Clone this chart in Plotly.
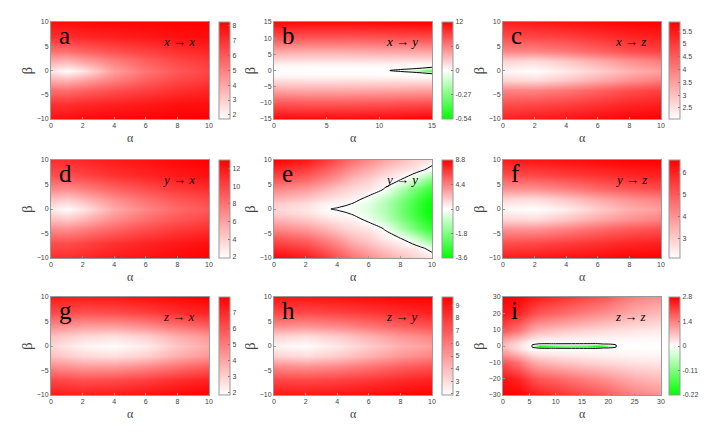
import plotly.graph_objects as go

W, H = 727, 435
OFF = 8  # page body margin that the browser adds around the figure

# ---------------- data ----------------
# a: x -> x
alpha_a = [0, 1, 2, 4, 6, 8, 10]
beta_a = [-10, -7, -4, -2, 0, 2, 4, 7, 10]
z_a = [
    [7.8, 7.9, 8.0, 8.1, 8.1, 8.2, 8.2],
    [7.0, 7.0, 7.2, 7.4, 7.6, 7.8, 7.9],
    [5.4, 5.4, 5.7, 6.2, 6.6, 7.0, 7.3],
    [3.8, 3.6, 4.1, 5.0, 5.8, 6.4, 6.8],
    [2.4, 1.8, 2.4, 4.2, 5.3, 6.0, 6.5],
    [3.8, 3.6, 4.1, 5.0, 5.8, 6.4, 6.8],
    [5.4, 5.4, 5.7, 6.2, 6.6, 7.0, 7.3],
    [7.0, 7.0, 7.2, 7.4, 7.6, 7.8, 7.9],
    [7.8, 7.9, 8.0, 8.1, 8.1, 8.2, 8.2],
]

# b: x -> y
alpha_b = [0, 3, 6, 9, 11, 12, 13.5, 15]
beta_b = [-15, -10, -5, -2, -1, -0.6, -0.3, 0, 0.3, 0.6, 1, 2, 5, 10, 15]
z_b = [
    [11.6, 11.5, 11.5, 11.6, 11.7, 11.8, 11.9, 12.0],
    [8.0, 7.8, 7.8, 7.9, 8.0, 8.1, 8.2, 8.3],
    [3.4, 3.2, 3.2, 3.3, 3.4, 3.4, 3.5, 3.6],
    [0.7, 0.6, 0.6, 0.6, 0.55, 0.5, 0.45, 0.4],
    [0.25, 0.2, 0.2, 0.18, 0.14, 0.12, 0.05, 0.0],
    [0.15, 0.12, 0.1, 0.08, 0.05, 0.04, 0.0, -0.2],
    [0.1, 0.08, 0.06, 0.04, 0.02, 0.0, -0.12, -0.35],
    [0.08, 0.06, 0.04, 0.02, 0.0, -0.1, -0.25, -0.48],
    [0.1, 0.08, 0.06, 0.04, 0.02, 0.0, -0.12, -0.35],
    [0.15, 0.12, 0.1, 0.08, 0.05, 0.04, 0.0, -0.2],
    [0.25, 0.2, 0.2, 0.18, 0.14, 0.12, 0.05, 0.0],
    [0.7, 0.6, 0.6, 0.6, 0.55, 0.5, 0.45, 0.4],
    [3.4, 3.2, 3.2, 3.3, 3.4, 3.4, 3.5, 3.6],
    [8.0, 7.8, 7.8, 7.9, 8.0, 8.1, 8.2, 8.3],
    [11.6, 11.5, 11.5, 11.6, 11.7, 11.8, 11.9, 12.0],
]

# c: x -> z
alpha_c = [0, 2, 4, 6, 8, 10]
beta_c = [-10, -7, -4, -2, 0, 2, 4, 7, 10]
z_c = [
    [5.4, 5.5, 5.6, 5.7, 5.8, 5.85],
    [4.7, 4.8, 4.9, 5.1, 5.3, 5.4],
    [3.9, 3.9, 4.1, 4.4, 4.7, 4.9],
    [2.7, 2.6, 2.9, 3.3, 3.7, 4.0],
    [2.2, 2.1, 2.4, 2.8, 3.2, 3.5],
    [2.7, 2.6, 2.9, 3.3, 3.7, 4.0],
    [3.9, 3.9, 4.1, 4.4, 4.7, 4.9],
    [4.7, 4.8, 4.9, 5.1, 5.3, 5.4],
    [5.4, 5.5, 5.6, 5.7, 5.8, 5.85],
]

# d: y -> x
alpha_d = [0, 1, 2, 4, 6, 8, 10]
beta_d = [-10, -7, -4, -2, 0, 2, 4, 7, 10]
z_d = [
    [11.0, 11.0, 11.3, 11.8, 12.2, 12.6, 12.9],
    [9.6, 9.6, 10.0, 10.8, 11.4, 11.9, 12.3],
    [7.0, 6.8, 7.4, 8.6, 9.6, 10.4, 11.0],
    [4.6, 4.2, 5.0, 6.8, 8.2, 9.2, 9.9],
    [2.8, 2.0, 3.0, 5.6, 7.2, 8.4, 9.2],
    [4.6, 4.2, 5.0, 6.8, 8.2, 9.2, 9.9],
    [7.0, 6.8, 7.4, 8.6, 9.6, 10.4, 11.0],
    [9.6, 9.6, 10.0, 10.8, 11.4, 11.9, 12.3],
    [11.0, 11.0, 11.3, 11.8, 12.2, 12.6, 12.9],
]

# e: y -> y
alpha_e = [0, 2, 3, 3.6, 4, 4.5, 5, 6, 7, 8, 9, 10]
beta_e = [-10, -8, -6, -4, -2, -1, -0.5, 0, 0.5, 1, 2, 4, 6, 8, 10]
z_e = [
    [8.7, 8.0, 7.1, 6.5, 6.0, 5.45, 4.9, 4.0, 3.1, 2.4, 1.5, 1.0],
    [7.3, 6.6, 5.8, 5.2, 4.8, 4.2, 3.6, 2.8, 1.9, 1.2, 0.8, -0.3],
    [5.8, 5.1, 4.3, 3.8, 3.4, 2.85, 2.3, 1.6, 0.6, 0.05, -0.8, -1.95],
    [4.2, 3.5, 2.8, 2.3, 2.0, 1.6, 1.3, 0.9, -0.04, -1.05, -2.0, -2.85],
    [2.6, 1.9, 1.3, 0.95, 0.8, 0.6, 0.5, -0.2, -0.9, -1.7, -2.6, -3.4],
    [1.8, 1.2, 0.6, 0.3, 0.3, 0.23, -0.05, -0.45, -1.05, -1.85, -2.75, -3.55],
    [1.6, 1.0, 0.42, 0.1, 0.15, -0.04, -0.1, -0.49, -1.09, -1.89, -2.79, -3.59],
    [1.5, 0.9, 0.35, 0.0, -0.06, -0.09, -0.12, -0.5, -1.1, -1.9, -2.8, -3.6],
    [1.6, 1.0, 0.42, 0.1, 0.15, -0.04, -0.1, -0.49, -1.09, -1.89, -2.79, -3.59],
    [1.8, 1.2, 0.6, 0.3, 0.3, 0.23, -0.05, -0.45, -1.05, -1.85, -2.75, -3.55],
    [2.6, 1.9, 1.3, 0.95, 0.8, 0.6, 0.5, -0.2, -0.9, -1.7, -2.6, -3.4],
    [4.2, 3.5, 2.8, 2.3, 2.0, 1.6, 1.3, 0.9, -0.04, -1.05, -2.0, -2.85],
    [5.8, 5.1, 4.3, 3.8, 3.4, 2.85, 2.3, 1.6, 0.6, 0.05, -0.8, -1.95],
    [7.3, 6.6, 5.8, 5.2, 4.8, 4.2, 3.6, 2.8, 1.9, 1.2, 0.8, -0.3],
    [8.7, 8.0, 7.1, 6.5, 6.0, 5.45, 4.9, 4.0, 3.1, 2.4, 1.5, 1.0],
]

# f: y -> z
alpha_f = [0, 2, 4, 6, 8, 10]
beta_f = [-10, -7, -4, -2, 0, 2, 4, 7, 10]
z_f = [
    [6.1, 6.2, 6.3, 6.4, 6.5, 6.55],
    [5.2, 5.3, 5.5, 5.7, 5.9, 6.0],
    [4.0, 4.0, 4.3, 4.7, 5.0, 5.2],
    [2.8, 2.7, 3.1, 3.6, 4.0, 4.3],
    [2.2, 2.1, 2.4, 3.0, 3.5, 3.8],
    [2.8, 2.7, 3.1, 3.6, 4.0, 4.3],
    [4.0, 4.0, 4.3, 4.7, 5.0, 5.2],
    [5.2, 5.3, 5.5, 5.7, 5.9, 6.0],
    [6.1, 6.2, 6.3, 6.4, 6.5, 6.55],
]

# g: z -> x
alpha_g = [0, 2, 4, 6, 8, 10]
beta_g = [-10, -7, -4, -2, 0, 2, 4, 7, 10]
z_g = [
    [7.4, 7.3, 7.4, 7.6, 7.8, 8.0],
    [6.3, 6.1, 6.2, 6.5, 6.9, 7.2],
    [4.6, 4.2, 4.2, 4.6, 5.2, 5.7],
    [3.4, 2.8, 2.6, 3.0, 3.8, 4.4],
    [2.8, 2.1, 1.9, 2.3, 3.2, 3.9],
    [3.4, 2.8, 2.6, 3.0, 3.8, 4.4],
    [4.6, 4.2, 4.2, 4.6, 5.2, 5.7],
    [6.3, 6.1, 6.2, 6.5, 6.9, 7.2],
    [7.4, 7.3, 7.4, 7.6, 7.8, 8.0],
]

# h: z -> y
alpha_h = [0, 2, 4, 6, 8, 10]
beta_h = [-10, -7, -4, -2, 0, 2, 4, 7, 10]
z_h = [
    [9.0, 9.0, 9.1, 9.3, 9.5, 9.6],
    [7.6, 7.5, 7.7, 8.0, 8.4, 8.7],
    [5.4, 5.2, 5.5, 6.1, 6.7, 7.2],
    [3.3, 3.0, 3.5, 4.3, 5.1, 5.7],
    [2.3, 2.0, 2.6, 3.5, 4.3, 4.9],
    [3.3, 3.0, 3.5, 4.3, 5.1, 5.7],
    [5.4, 5.2, 5.5, 6.1, 6.7, 7.2],
    [7.6, 7.5, 7.7, 8.0, 8.4, 8.7],
    [9.0, 9.0, 9.1, 9.3, 9.5, 9.6],
]

# i: z -> z
alpha_i = [0, 3, 5.5, 7, 10, 13, 16, 18, 20, 21.5, 25, 30]
beta_i = [-30, -20, -10, -5, -2.5, -1.2, -0.6, 0, 0.6, 1.2, 2.5, 5, 10, 20, 30]
z_i = [
    [2.8, 2.75, 2.55, 2.45, 2.3, 2.15, 2.0, 1.9, 1.8, 1.65, 1.4, 1.2],
    [2.6, 2.4, 2.0, 1.85, 1.7, 1.55, 1.4, 1.3, 1.2, 1.1, 0.9, 0.75],
    [1.9, 1.5, 1.0, 0.85, 0.7, 0.6, 0.5, 0.45, 0.4, 0.37, 0.3, 0.25],
    [1.2, 0.8, 0.4, 0.3, 0.25, 0.2, 0.17, 0.15, 0.13, 0.12, 0.1, 0.08],
    [0.95, 0.45, 0.09, 0.09, 0.08, 0.07, 0.06, 0.06, 0.05, 0.05, 0.04, 0.04],
    [0.8, 0.37, 0.02, -0.001, -0.001, -0.001, -0.001, -0.001, 0.01, 0.01, 0.02, 0.02],
    [0.8, 0.36, 0.01, -0.13, -0.08, -0.07, -0.09, -0.13, -0.04, 0.005, 0.02, 0.02],
    [0.8, 0.35, 0.0, -0.2, -0.13, -0.11, -0.14, -0.2, -0.1, 0.0, 0.02, 0.02],
    [0.8, 0.36, 0.01, -0.13, -0.08, -0.07, -0.09, -0.13, -0.04, 0.005, 0.02, 0.02],
    [0.8, 0.37, 0.02, -0.001, -0.001, -0.001, -0.001, -0.001, 0.01, 0.01, 0.02, 0.02],
    [0.95, 0.45, 0.09, 0.09, 0.08, 0.07, 0.06, 0.06, 0.05, 0.05, 0.04, 0.04],
    [1.2, 0.8, 0.4, 0.3, 0.25, 0.2, 0.17, 0.15, 0.13, 0.12, 0.1, 0.08],
    [1.9, 1.5, 1.0, 0.85, 0.7, 0.6, 0.5, 0.45, 0.4, 0.37, 0.3, 0.25],
    [2.6, 2.4, 2.0, 1.85, 1.7, 1.55, 1.4, 1.3, 1.2, 1.1, 0.9, 0.75],
    [2.8, 2.75, 2.55, 2.45, 2.3, 2.15, 2.0, 1.9, 1.8, 1.65, 1.4, 1.2],
]

# colorbar ranges / ticks
cb_a = dict(zmin=1.73, zmax=8.22, ticks=[2, 3, 4, 5, 6, 7, 8])
cb_c = dict(zmin=2.07, zmax=5.86, ticks=[2.5, 3, 3.5, 4, 4.5, 5, 5.5])
cb_d = dict(zmin=1.89, zmax=12.94, ticks=[2, 4, 6, 8, 10, 12])
cb_f = dict(zmin=2.09, zmax=6.56, ticks=[3, 4, 5, 6])
cb_g = dict(zmin=1.83, zmax=7.99, ticks=[2, 3, 4, 5, 6, 7])
cb_h = dict(zmin=1.92, zmax=9.66, ticks=[2, 3, 4, 5, 6, 7, 8, 9])
# diverging bars: (positive max, negative min)
cb_b = dict(pos=12, neg=0.54, labels=["-0.54", "-0.27", "0", "6", "12"])
cb_e = dict(pos=8.8, neg=3.6, labels=["-3.6", "-1.8", "0", "4.4", "8.8"])
cb_i = dict(pos=2.8, neg=0.22, labels=["-0.22", "-0.11", "0", "1.4", "2.8"])

# ---------------- layout geometry (window px) ----------------
col_px = [(51, 209, 219), (274, 432, 442), (503, 661, 669)]
row_px = [(22, 119), (160, 258), (297, 395)]


def fx(p):
    return (p - OFF) / W


def fy(p):
    return 1 - (p - OFF) / H


RED = [[0, "rgb(255,255,255)"], [1, "rgb(255,0,0)"]]
DIV = [[0, "rgb(0,255,0)"], [0.5, "rgb(255,255,255)"], [1, "rgb(255,0,0)"]]
TICKFONT = dict(family="Liberation Sans, Arial", size=7, color="#444")
SERIF = "Liberation Serif, Times New Roman, serif"

panels = [
    ("a", "<i>x</i> → <i>x</i>", alpha_a, beta_a, z_a, cb_a, None, [0, 2, 4, 6, 8, 10], [-10, -5, 0, 5, 10], 10, 10),
    ("b", "<i>x</i> → <i>y</i>", alpha_b, beta_b, z_b, None, cb_b, [0, 5, 10, 15], [-15, -10, -5, 0, 5, 10, 15], 15, 15),
    ("c", "<i>x</i> → <i>z</i>", alpha_c, beta_c, z_c, cb_c, None, [0, 2, 4, 6, 8, 10], [-10, -5, 0, 5, 10], 10, 10),
    ("d", "<i>y</i> → <i>x</i>", alpha_d, beta_d, z_d, cb_d, None, [0, 2, 4, 6, 8, 10], [-10, -5, 0, 5, 10], 10, 10),
    ("e", "<i>y</i> → <i>y</i>", alpha_e, beta_e, z_e, None, cb_e, [0, 2, 4, 6, 8, 10], [-10, -5, 0, 5, 10], 10, 10),
    ("f", "<i>y</i> → <i>z</i>", alpha_f, beta_f, z_f, cb_f, None, [0, 2, 4, 6, 8, 10], [-10, -5, 0, 5, 10], 10, 10),
    ("g", "<i>z</i> → <i>x</i>", alpha_g, beta_g, z_g, cb_g, None, [0, 2, 4, 6, 8, 10], [-10, -5, 0, 5, 10], 10, 10),
    ("h", "<i>z</i> → <i>y</i>", alpha_h, beta_h, z_h, cb_h, None, [0, 2, 4, 6, 8, 10], [-10, -5, 0, 5, 10], 10, 10),
    ("i", "<i>z</i> → <i>z</i>", alpha_i, beta_i, z_i, None, cb_i, [0, 5, 10, 15, 20, 25, 30], [-30, -20, -10, 0, 10, 20, 30], 30, 30),
]

fig = go.Figure()
annotations = []
layout = {}

for k, (letter, label, al, be, z, cb, dv, xt, yt, xmax, ymax) in enumerate(panels, start=1):
    r, c = (k - 1) // 3, (k - 1) % 3
    x0, x1, cbx = col_px[c]
    y0, y1 = row_px[r]
    sfx = "" if k == 1 else str(k)
    xa, ya = "x" + sfx, "y" + sfx

    colorbar = dict(
        x=fx(cbx), xanchor="left", xpad=0, ypad=0,
        y=fy((y0 + y1) / 2), yanchor="middle",
        len=(y1 - y0) / H, lenmode="fraction", thickness=11,
        outlinewidth=1, outlinecolor="#999",
        ticks="inside", ticklen=2, tickcolor="#777",
        tickfont=TICKFONT,
    )

    if dv is None:
        zz = z
        zmin, zmax = cb["zmin"], cb["zmax"]
        colorbar.update(tickvals=cb["ticks"])
        cs = RED
    else:
        # negative part of the bar uses its own (smaller) scale
        s = dv["pos"] / dv["neg"]
        zz = [[v if v >= 0 else v * s for v in row] for row in z]
        zmin, zmax = -dv["pos"], dv["pos"]
        p = dv["pos"]
        colorbar.update(tickvals=[-p, -p / 2, 0, p / 2, p], ticktext=dv["labels"])
        cs = DIV

    fig.add_trace(go.Heatmap(
        x=al, y=be, z=zz, zmin=zmin, zmax=zmax, colorscale=cs,
        zsmooth="best", colorbar=colorbar, xaxis=xa, yaxis=ya,
        hoverinfo="skip",
    ))
    if dv is not None:
        fig.add_trace(go.Contour(
            x=al, y=be, z=zz, autocontour=False,
            contours=dict(start=0, end=0, size=1, coloring="none"),
            line=dict(color="black", width=1, smoothing=1),
            showscale=False, xaxis=xa, yaxis=ya, hoverinfo="skip",
        ))

    axis_common = dict(
        showgrid=False, zeroline=False, showline=True, mirror=True,
        linecolor="#999", linewidth=1, ticks="inside", ticklen=2,
        tickcolor="#999", tickfont=TICKFONT,
    )
    layout["xaxis" + sfx] = dict(
        axis_common, domain=[fx(x0), fx(x1)], anchor=ya,
        range=[0, xmax], tickvals=xt,
    )
    layout["yaxis" + sfx] = dict(
        axis_common, domain=[fy(y1), fy(y0)], anchor=xa,
        range=[-ymax, ymax], tickvals=yt,
    )

    dref = xa + " domain", ya + " domain"
    annotations.append(dict(
        text=letter, xref=dref[0], yref=dref[1], x=0.035, y=0.86,
        xanchor="left", yanchor="middle", showarrow=False,
        font=dict(family=SERIF, size=25, color="black"),
    ))
    annotations.append(dict(
        text=label, xref=dref[0], yref=dref[1], x=0.81, y=0.80,
        xanchor="center", yanchor="middle", showarrow=False,
        font=dict(family=SERIF, size=13, color="black"),
    ))
    annotations.append(dict(
        text="α", xref="paper", yref="paper",
        x=fx((x0 + x1) / 2), y=fy(y1 + 19),
        xanchor="center", yanchor="middle", showarrow=False,
        font=dict(family=SERIF, size=12, color="#444"),
    ))
    annotations.append(dict(
        text="β", xref="paper", yref="paper",
        x=fx(x0 - 24), y=fy((y0 + y1) / 2),
        xanchor="center", yanchor="middle", showarrow=False, textangle=-90,
        font=dict(family=SERIF, size=15, color="#444"),
    ))

fig.update_layout(
    width=W, height=H,
    margin=dict(l=0, r=0, t=0, b=0, autoexpand=False),
    paper_bgcolor="white", plot_bgcolor="white",
    showlegend=False,
    annotations=annotations,
    **layout,
)

fig.write_html("out.html")
